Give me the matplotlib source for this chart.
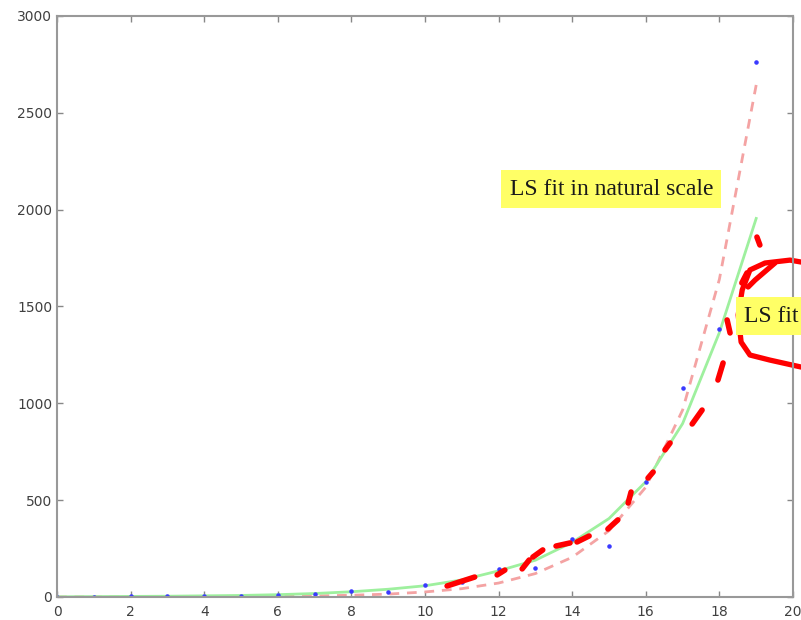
import matplotlib.pyplot as plt

# data: observed points and the two least-squares fits
x = list(range(20))
obs = [1, 2, 3, 4, 6, 6, 8, 15, 30, 27, 62, 77, 144, 150, 299, 263, 593, 1077, 1381, 2763]
fit_natural = [1, 2, 3, 4, 6, 8, 12, 18, 27, 40, 58, 88, 135, 190, 282, 405, 595, 895, 1365, 1954]
fit_log = [0.15, 0.25, 0.42, 0.7, 1.2, 2, 3.3, 5.5, 9, 15, 26, 43, 72, 121, 205, 342, 567, 965, 1640, 2643]

# hand-drawn red marks on top of the screenshot
trace_strokes = [
    ((10.6, 11.35), (57, 103)),
    ((11.96, 12.17), (114, 139)),
    ((12.64, 12.83), (145, 191)),
    ((12.93, 13.2), (206, 243)),
    ((13.56, 13.94), (263, 279)),
    ((14.13, 14.46), (284, 315)),
    ((14.97, 15.24), (351, 398)),
    ((15.52, 15.6), (485, 542)),
    ((16.06, 16.2), (614, 645)),
    ((16.52, 16.66), (759, 795)),
    ((17.26, 17.53), (893, 965)),
    ((17.96, 18.1), (1120, 1208)),
    ((18.21, 18.29), (1430, 1363)),
    ((18.61, 18.75), (1621, 1673)),
    ((19.02, 19.1), (1858, 1817)),
]
loop_x = [20.22, 19.92, 19.24, 18.83, 18.62, 18.51, 18.59, 18.83, 19.37, 20.22]
loop_y = [1729, 1739, 1724, 1688, 1585, 1456, 1316, 1249, 1223, 1187]
hook_x = [19.51, 18.97, 18.78]
hook_y = [1724, 1636, 1600]

fig = plt.figure(figsize=(8.01, 6.2), dpi=100)
ax = fig.add_axes([0.0712, 0.0371, 0.9188, 0.9374])

ax.plot(x, fit_log, color='#f4a3a3', lw=2, dashes=(3.5, 2.8))
ax.plot(x, fit_natural, color='#9ef09e', lw=2)
ax.plot(x, obs, '.', color='#3a3aff', ms=4.5)

ax.set_xlim(0, 20)
ax.set_ylim(0, 3000)
ax.set_xticks(range(0, 21, 2))
ax.set_yticks(range(0, 3001, 500))
ax.tick_params(direction='in', top=True, right=True, length=4, width=1,
               color='#888888', labelsize=10, labelcolor='#404040')
ax.tick_params(axis='x', pad=6)
for s in ax.spines.values():
    s.set_color('#999999')
    s.set_linewidth(1.5)

box = dict(boxstyle='square,pad=0.35', facecolor='#ffff66', edgecolor='none')
ax.text(12.3, 2105, 'LS fit in natural scale', family='Liberation Serif',
        fontsize=17, color='#1a1a1a', va='center', bbox=box)
ax.text(18.68, 1450, 'LS fit in log scale', family='Liberation Serif',
        fontsize=17, color='#1a1a1a', va='center', bbox=box, clip_on=False)

for sx, sy in trace_strokes:
    ax.plot(sx, sy, color='red', lw=4, solid_capstyle='round', clip_on=False)
ax.plot(loop_x, loop_y, color='red', lw=3.8, solid_capstyle='round', clip_on=False)
ax.plot(hook_x, hook_y, color='red', lw=3.8, solid_capstyle='round', clip_on=False)

plt.savefig('out.png', dpi=100)
